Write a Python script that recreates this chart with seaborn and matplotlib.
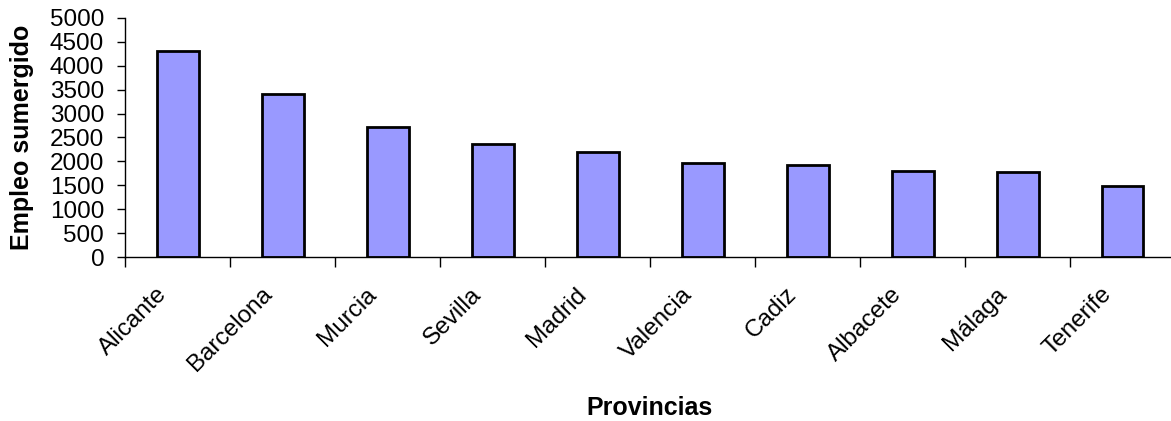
import matplotlib
matplotlib.use("Agg")
import matplotlib.pyplot as plt
import matplotlib.transforms as mtransforms
import seaborn as sns
import pandas as pd

provincias = ["Alicante", "Barcelona", "Murcia", "Sevilla", "Madrid",
              "Valencia", "Cadiz", "Albacete", "Málaga", "Tenerife"]
empleo = [4310, 3420, 2730, 2370, 2200, 1965, 1930, 1800, 1775, 1490]
y_ticks = [0, 500, 1000, 1500, 2000, 2500, 3000, 3500, 4000, 4500, 5000]

sns.set_theme(style="white")
plt.rcParams["font.family"] = ["Liberation Sans", "DejaVu Sans"]
plt.rcParams.update({"text.color": "black", "axes.labelcolor": "black",
                     "xtick.color": "black", "ytick.color": "black"})

df = pd.DataFrame({"Provincias": provincias, "Empleo": empleo})

fig = plt.figure(figsize=(11.71, 4.21), dpi=100)
ax = fig.add_axes([125 / 1171, 1 - 257 / 421, 1050 / 1171, 239 / 421])

sns.barplot(data=df, x="Provincias", y="Empleo", ax=ax, color="#9999FF",
            saturation=1, edgecolor="black", linewidth=2.0, width=0.4)

ax.set_xlim(-0.5, len(provincias) - 0.5)
ax.set_ylim(0, 5000)
ax.set_yticks(y_ticks)
ax.set_yticklabels([str(v) for v in y_ticks], fontsize=17.5, color="black")

for s in ["top", "right"]:
    ax.spines[s].set_visible(False)
for s in ["left", "bottom"]:
    ax.spines[s].set_color("black")
    ax.spines[s].set_linewidth(1.0)

ax.tick_params(axis="y", which="major", direction="out", length=6, width=1,
               color="black", labelcolor="black", pad=9, left=True, labelsize=17.5)
ax.set_xticks(range(len(provincias)))
ax.set_xticklabels(provincias, fontsize=17.5, rotation=45, ha="right",
                   va="center", rotation_mode="anchor", color="black")
ax.tick_params(axis="x", which="major", length=0, pad=0, bottom=True,
               labelcolor="black")
ax.set_xticks([i - 0.5 for i in range(len(provincias) + 1)], minor=True)
ax.tick_params(axis="x", which="minor", direction="out", length=7, width=1,
               color="black", bottom=True)

offset = mtransforms.ScaledTranslation(-14 / 100, -34 / 100, fig.dpi_scale_trans)
for lab in ax.get_xticklabels():
    lab.set_transform(lab.get_transform() + offset)

ax.set_ylabel("Empleo sumergido", fontsize=18, fontweight="bold", color="black")
ax.yaxis.set_label_coords(-(125 - 34) / 1050, 0.5)
ax.set_xlabel("Provincias", fontsize=18, fontweight="bold", color="black")
ax.xaxis.set_label_coords(0.5, -(396 - 257) / 239)

fig.savefig("out.png", dpi=100)
